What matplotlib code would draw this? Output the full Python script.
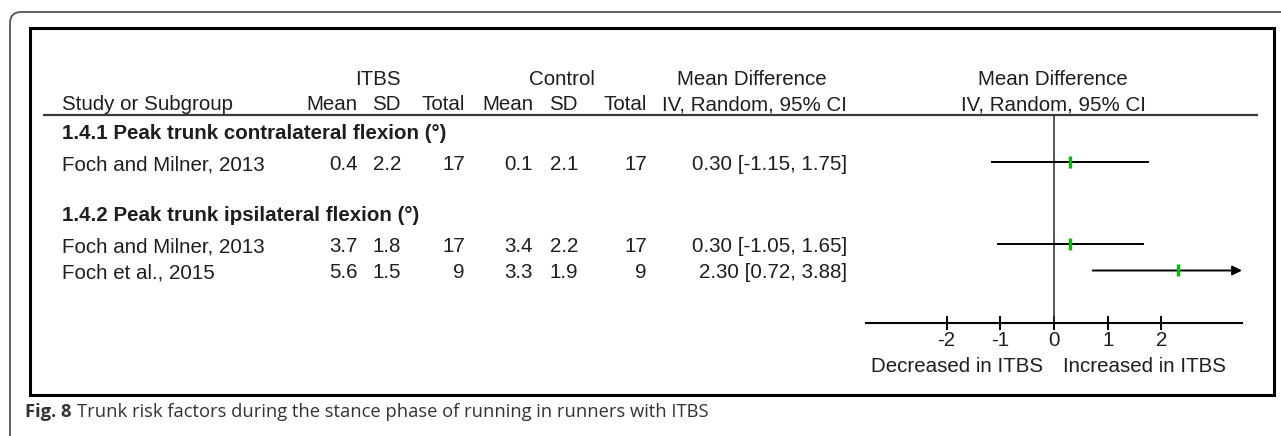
import matplotlib
matplotlib.use("Agg")
import matplotlib.pyplot as plt
from matplotlib.patches import Rectangle, FancyBboxPatch

# data
groups = ["1.4.1 Peak trunk contralateral flexion (°)",
          "1.4.2 Peak trunk ipsilateral flexion (°)"]
group_of = [0, 1, 1]
studies = ["Foch and Milner, 2013", "Foch and Milner, 2013", "Foch et al., 2015"]
itbs_mean = [0.4, 3.7, 5.6]
itbs_sd = [2.2, 1.8, 1.5]
itbs_n = [17, 17, 9]
ctrl_mean = [0.1, 3.4, 3.3]
ctrl_sd = [2.1, 2.2, 1.9]
ctrl_n = [17, 17, 9]
md = [0.30, 0.30, 2.30]
ci_lo = [-1.15, -1.05, 0.72]
ci_hi = [1.75, 1.65, 3.88]
ticks = [-2, -1, 0, 1, 2]
left_label = "Decreased in ITBS"
right_label = "Increased in ITBS"
caption_bold = "Fig. 8"
caption = "Trunk risk factors during the stance phase of running in runners with ITBS"

W, H = 1281, 436
FONT = "Liberation Sans"
FS = 14.8
TXT = "#1e1e1e"

fig = plt.figure(figsize=(W / 100, H / 100), dpi=100)
base = fig.add_axes([0, 0, 1, 1])
base.set_xlim(0, W)
base.set_ylim(H, 0)
base.axis("off")

# outer rounded frame (only top-left corner visible) and inner box
base.add_patch(FancyBboxPatch((10, 12), W + 40, H + 40,
                              boxstyle="round,pad=0,rounding_size=11",
                              fill=False, ec="#555555", lw=1.3))
base.add_patch(Rectangle((30, 28), 1244, 367, fill=False, ec="black", lw=2.2))

def t(x, y, s, ha="left", bold=False, **kw):
    base.text(x, y, s, ha=ha, va="baseline", fontsize=FS, family=FONT,
              color=TXT, fontweight="bold" if bold else "normal", **kw)

# column right edges
x_name = 62
x_m1, x_sd1, x_n1 = 358, 401, 465
x_m2, x_sd2, x_n2 = 533, 578, 647
x_ci = 847

# header
t(378, 85, "ITBS", ha="center")
t(562, 85, "Control", ha="center")
t(752, 85, "Mean Difference", ha="center")
t(1053, 85, "Mean Difference", ha="center")
t(x_name, 110, "Study or Subgroup")
for x, s in [(x_m1, "Mean"), (x_sd1, "SD"), (x_n1, "Total"),
             (x_m2, "Mean"), (x_sd2, "SD"), (x_n2, "Total"),
             (x_ci, "IV, Random, 95% CI")]:
    t(x, 110, s, ha="right")
t(1053, 110, "IV, Random, 95% CI", ha="center")
base.plot([43, 1258], [115, 115], color="#3a3a3a", lw=1.6, solid_capstyle="butt")

# rows (baselines)
group_base = [139, 221]
row_base = [170, 252, 278]
for g, yb in zip(groups, group_base):
    t(x_name, yb, g, bold=True)
for i in range(len(studies)):
    yb = row_base[i]
    t(x_name, yb, studies[i])
    t(x_m1, yb, f"{itbs_mean[i]:.1f}", ha="right")
    t(x_sd1, yb, f"{itbs_sd[i]:.1f}", ha="right")
    t(x_n1, yb, f"{itbs_n[i]}", ha="right")
    t(x_m2, yb, f"{ctrl_mean[i]:.1f}", ha="right")
    t(x_sd2, yb, f"{ctrl_sd[i]:.1f}", ha="right")
    t(x_n2, yb, f"{ctrl_n[i]}", ha="right")
    t(x_ci, yb, f"{md[i]:.2f} [{ci_lo[i]:.2f}, {ci_hi[i]:.2f}]", ha="right")

# forest plot
ax_l, ax_r, ax_top, ax_bot = 866, 1242, 115, 323
ax = fig.add_axes([ax_l / W, (H - ax_bot) / H, (ax_r - ax_l) / W, (ax_bot - ax_top) / H])
ax.set_xlim(-3.5, 3.5)
ax.set_ylim(ax_bot, ax_top)
ax.patch.set_visible(False)
for s in ["top", "left", "right"]:
    ax.spines[s].set_visible(False)
ax.spines["bottom"].set_linewidth(1.5)
ax.set_yticks([])
ax.set_xticks(ticks)
ax.set_xticklabels([str(v) for v in ticks], fontsize=FS, family=FONT, color=TXT)
ax.tick_params(axis="x", direction="inout", length=9.5, width=1.4, pad=1)
ax.axvline(0, color="#2a2a2a", lw=1.1)
xmax = ax.get_xlim()[1]
for i in range(len(studies)):
    y = row_base[i] - 7.5
    if ci_hi[i] > xmax:
        ax.annotate("", xy=(xmax, y), xytext=(ci_lo[i], y),
                    arrowprops=dict(arrowstyle="-|>", color="black", lw=1.4,
                                    mutation_scale=14, shrinkA=0, shrinkB=0))
    else:
        ax.plot([ci_lo[i], ci_hi[i]], [y, y], color="black", lw=1.4)
    ax.plot(md[i], y, marker="|", ms=8.5, mew=2.4, color="#00c000", zorder=5)

t(1043, 372, left_label, ha="right")
t(1063, 372, right_label)

# caption
c1 = base.text(25, 417, caption_bold, ha="left", va="baseline", fontsize=13.2,
               family="Open Sans", fontweight="bold", color="#333333")
base.annotate(caption, xy=(1, 0), xycoords=c1, xytext=(4, 0),
              textcoords="offset points", ha="left", va="bottom",
              fontsize=13.2, family="Open Sans", color="#333333")

fig.savefig("out.png", dpi=100)
